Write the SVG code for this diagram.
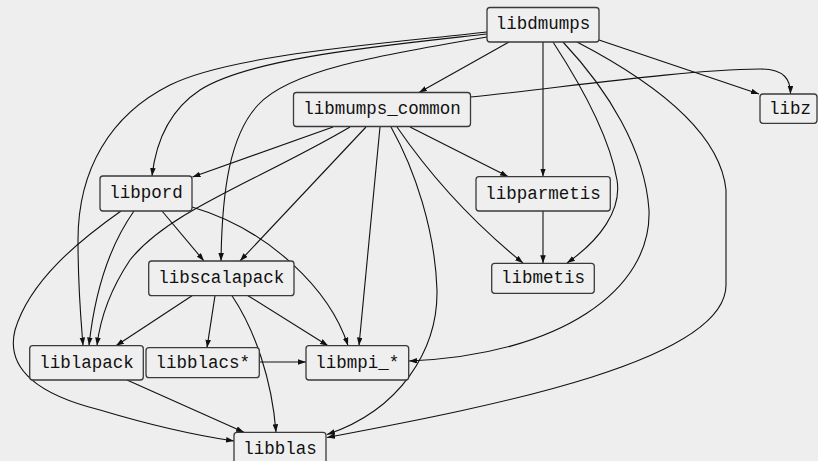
<svg xmlns="http://www.w3.org/2000/svg" width="818" height="461" viewBox="0 0 818 461">
<style>
.bg{fill:#eeeeee}
.node rect{fill:#efefef;stroke:#3a3a3a;stroke-width:1.3}
.node text{font-family:"Liberation Mono","DejaVu Sans Mono",monospace;font-size:17.5px;fill:#111;text-anchor:middle}
.edges path{fill:none;stroke:#111;stroke-width:1.1;marker-end:url(#ah)}
</style>
<defs>
<marker id="ah" markerWidth="8" markerHeight="6" refX="8" refY="2.8" orient="auto" markerUnits="userSpaceOnUse">
<path d="M0,0 L8,2.8 L0,5.6 z" fill="#111"/>
</marker>
</defs>
<rect class="bg" x="0" y="0" width="818" height="461"/>
<g class="edges">
<path d="M509,42 L419,92.5"/>
<path d="M599,40 L759,94"/>
<path d="M543,42 L543,176.5"/>
<path d="M553,42 C583,88 610,140 617,180 C622,210 600,240 567,263"/>
<path d="M563,42 C608,90 645,150 649,210 C652,290 560,355 409,361"/>
<path d="M577,42 C650,80 720,130 726,190 L726,285 C726,360 500,405 327,437.5"/>
<path d="M487,32 C380,44 230,55 170,85 C110,115 78,170 78,240 C78,290 81,320 83,345.5"/>
<path d="M487,34 C380,46 250,58 200,90 C165,113 155,150 152,176"/>
<path d="M487,37 C380,55 290,70 258,105 C230,135 222,190 221,261"/>
<path d="M333,127 L192.5,177"/>
<path d="M350,127 C260,180 170,210 130,260 C110,290 100,320 97,345.5"/>
<path d="M366,127 L240,261"/>
<path d="M380,127 L359,345.5"/>
<path d="M391,127 C415,170 435,230 437,290 C438,350 400,410 327,434.5"/>
<path d="M397,127 C430,175 470,220 523,263"/>
<path d="M410,127 L508,176.5"/>
<path d="M470.7,97 C560,88 680,70 760,69 C785,69 790.5,80 790.5,94"/>
<path d="M121,211 C80,240 30,280 15,330 C5,370 40,395 100,410 C150,425 200,436 234,441"/>
<path d="M134,211 C110,245 95,290 89,345.5"/>
<path d="M162,211 L204,261"/>
<path d="M192,207 C270,230 330,290 348,345.5"/>
<path d="M192,295.7 L116,345.7"/>
<path d="M215,295.7 L207,347.7"/>
<path d="M232,295.7 C255,330 272,380 276,432.3"/>
<path d="M248,295.7 L328,345.7"/>
<path d="M259.3,362 L306,362"/>
<path d="M127,380 L244,432.3"/>
<path d="M543,211 L543,263.3"/>
</g>
<g id="libdmumps" class="node"><rect x="487" y="7.5" width="112" height="34.5" rx="3"/><text x="543" y="29">libdmumps</text></g>
<g id="libmumps_common" class="node"><rect x="293.5" y="92.5" width="177" height="34" rx="3"/><text x="382" y="114">libmumps_common</text></g>
<g id="libz" class="node"><rect x="760" y="94" width="57" height="29.3" rx="3"/><text x="790" y="113.5">libz</text></g>
<g id="libpord" class="node"><rect x="100" y="176" width="92" height="35" rx="3"/><text x="146" y="198">libpord</text></g>
<g id="libparmetis" class="node"><rect x="476" y="176.7" width="134.3" height="34.3" rx="3"/><text x="543" y="198.5">libparmetis</text></g>
<g id="libscalapack" class="node"><rect x="148.7" y="261" width="145.3" height="34.7" rx="3"/><text x="221.3" y="283">libscalapack</text></g>
<g id="libmetis" class="node"><rect x="491.7" y="263.3" width="102.6" height="30" rx="3"/><text x="543" y="283">libmetis</text></g>
<g id="liblapack" class="node"><rect x="29.7" y="345.7" width="113.6" height="34.3" rx="3"/><text x="86.5" y="367.5">liblapack</text></g>
<g id="libblacs" class="node"><rect x="146" y="347.7" width="113.3" height="30" rx="3"/><text x="202.7" y="367.5">libblacs*</text></g>
<g id="libmpi" class="node"><rect x="306" y="345.7" width="102.7" height="34.3" rx="3"/><text x="357.3" y="367.5">libmpi_*</text></g>
<g id="libblas" class="node"><rect x="234" y="432.3" width="92" height="34" rx="3"/><text x="280" y="453.5">libblas</text></g>
</svg>
